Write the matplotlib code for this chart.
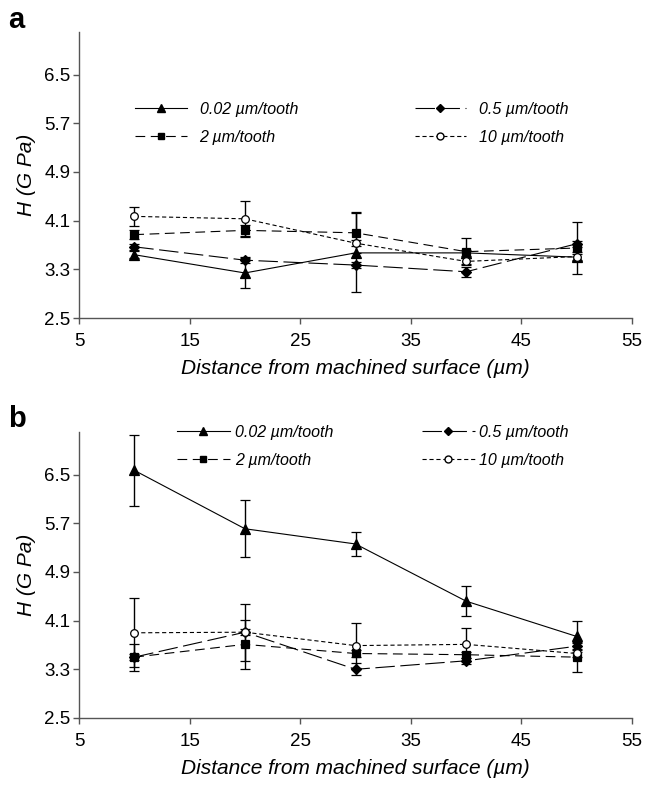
import matplotlib
matplotlib.use("Agg")
import matplotlib.pyplot as plt
from matplotlib.lines import Line2D

plt.rcParams['font.family'] = ['Liberation Sans', 'DejaVu Sans']
plt.rcParams['lines.scale_dashes'] = False

distance = [10, 20, 30, 40, 50]
labels = ["0.02 µm/tooth", "2 µm/tooth", "0.5 µm/tooth", "10 µm/tooth"]

# Panel a
a_002 = [3.54, 3.24, 3.57, 3.57, 3.50]
a_002_err = [0.06, 0.25, 0.65, 0.05, 0.05]
a_2 = [3.87, 3.94, 3.90, 3.59, 3.65]
a_2_err = [0.07, 0.09, 0.34, 0.22, 0.42]
a_05 = [3.67, 3.45, 3.37, 3.26, 3.72]
a_05_err = [0.05, 0.05, 0.05, 0.08, 0.05]
a_10 = [4.17, 4.13, 3.73, 3.43, 3.51]
a_10_err = [0.15, 0.30, 0.05, 0.05, 0.08]

# Panel b
b_002 = [6.57, 5.61, 5.36, 4.42, 3.84]
b_002_err = [0.58, 0.47, 0.20, 0.25, 0.25]
b_2 = [3.50, 3.71, 3.56, 3.54, 3.50]
b_2_err = [0.22, 0.40, 0.05, 0.05, 0.25]
b_05 = [3.50, 3.91, 3.30, 3.44, 3.68]
b_05_err = [0.05, 0.05, 0.10, 0.05, 0.05]
b_10 = [3.90, 3.91, 3.69, 3.71, 3.56]
b_10_err = [0.57, 0.47, 0.37, 0.27, 0.05]

xticks = [5, 15, 25, 35, 45, 55]
yticks = [2.5, 3.3, 4.1, 4.9, 5.7, 6.5]

styles = [
    dict(marker='^', ls='-', mfc='black', ms=6.5),
    dict(marker='s', ls=(0, (7, 4)), mfc='black', ms=5.5),
    dict(marker='D', ls=(0, (14, 4)), mfc='black', ms=5),
    dict(marker='o', ls=(0, (3, 2)), mfc='white', ms=5.5),
]

W, H = 646, 787
fig = plt.figure(figsize=(W / 100, H / 100), dpi=100)

def axes_rect(left, right, top, bottom):
    return [left / W, 1 - bottom / H, (right - left) / W, (bottom - top) / H]

panels = [
    dict(rect=axes_rect(79, 632, 32, 318), series=[a_002, a_2, a_05, a_10],
         errs=[a_002_err, a_2_err, a_05_err, a_10_err], letter='a', letter_y=28,
         leg_xy=(135, 102), hl=3.25, htp=0.79, cs=7.3),
    dict(rect=axes_rect(79, 632, 432, 718), series=[b_002, b_2, b_05, b_10],
         errs=[b_002_err, b_2_err, b_05_err, b_10_err], letter='b', letter_y=427,
         leg_xy=(177, 425), hl=3.3, htp=0.31, cs=5.56),
]

for p in panels:
    ax = fig.add_axes(p['rect'])
    for vals, err, st, lab in zip(p['series'], p['errs'], styles, labels):
        ax.errorbar(distance, vals, yerr=err, color='black', lw=0.8,
                    elinewidth=1.0, capsize=3.5, capthick=1.0,
                    marker=st['marker'], ls=st['ls'], mfc=st['mfc'],
                    mec='black', ms=st['ms'], mew=0.9, label=lab)
    ax.set_xlim(5, 55)
    ax.set_ylim(2.5, 7.2)
    ax.set_xticks(xticks)
    ax.set_yticks(yticks)
    ax.set_xticklabels([str(v) for v in xticks])
    ax.set_yticklabels([f"{v:.1f}" for v in yticks])
    for s in ['top', 'right']:
        ax.spines[s].set_visible(False)
    for s in ['left', 'bottom']:
        ax.spines[s].set_color('#555555')
        ax.spines[s].set_linewidth(1.0)
    ax.tick_params(axis='both', direction='out', length=4, width=1, color='#555555',
                   labelsize=13.5)
    ax.tick_params(axis='x', pad=6.5)
    ax.tick_params(axis='y', pad=2)
    ax.set_xlabel("Distance from machined surface (µm)", fontsize=15, style='italic', labelpad=7)
    ax.set_ylabel("H (G Pa)", fontsize=15, style='italic', labelpad=6)
    fig.text(8 / W, 1 - p['letter_y'] / H, p['letter'], fontsize=21, fontweight='bold',
             va='baseline', ha='left')

    handles = [Line2D([], [], color='black', lw=0.8, ls=styles[i]['ls'],
                      marker=styles[i]['marker'], mfc=styles[i]['mfc'], mec='black',
                      ms=styles[i]['ms'] - 0.5) for i in range(4)]
    leg = ax.legend(handles, labels, ncol=2, frameon=False,
                    prop={'size': 11.5, 'style': 'italic'},
                    loc='upper left', borderpad=0, borderaxespad=0,
                    handlelength=p['hl'], handletextpad=p['htp'],
                    columnspacing=p['cs'], labelspacing=0.8)
    leg.set_bbox_to_anchor((p['leg_xy'][0] / W, 1 - p['leg_xy'][1] / H),
                           transform=fig.transFigure)

fig.savefig("out.png", dpi=100)
